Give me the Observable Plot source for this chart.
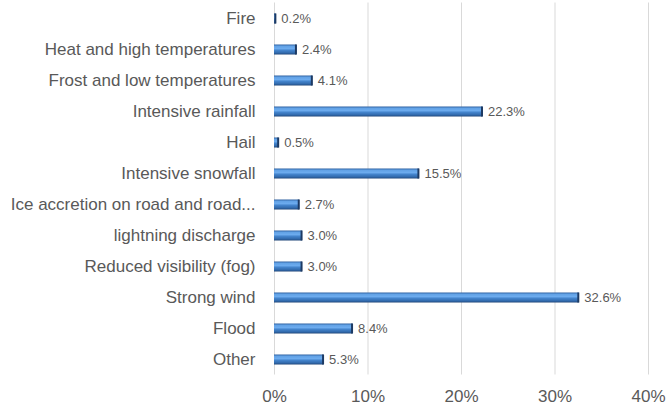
<!DOCTYPE html>
<html>
<head>
<meta charset="utf-8">
<script src="https://cdn.jsdelivr.net/npm/d3@7"></script>
<script src="https://cdn.jsdelivr.net/npm/@observablehq/plot@0.6"></script>
<style>
  body { margin: 0; background: #fff; }
</style>
</head>
<body>
<div id="chart"></div>
<script>
// Share of events by hazard type (%)
const categories = [
  "Fire",
  "Heat and high temperatures",
  "Frost and low temperatures",
  "Intensive rainfall",
  "Hail",
  "Intensive snowfall",
  "Ice accretion on road and road...",
  "lightning discharge",
  "Reduced visibility (fog)",
  "Strong wind",
  "Flood",
  "Other"
];
const shares = [0.2, 2.4, 4.1, 22.3, 0.5, 15.5, 2.7, 3.0, 3.0, 32.6, 8.4, 5.3];
const xTicks = [0, 10, 20, 30, 40];

const rows = categories.map((category, i) => ({category, share: shares[i]}));
const fmtPct = d => d + "%";
const font = "'Liberation Sans', Arial, sans-serif";

const chart = Plot.plot({
  width: 666,
  height: 408,
  marginLeft: 274,
  marginRight: 18,
  marginTop: 2.5,
  marginBottom: 33.5,
  style: {fontFamily: font, color: "#595959", background: "#fff"},
  x: {domain: [0, 40]},
  y: {domain: categories, padding: 0},
  marks: [
    Plot.gridX(xTicks, {stroke: "#d9d9d9", strokeOpacity: 1}),
    Plot.axisX({ticks: xTicks, tickFormat: fmtPct, tickSize: 0, tickPadding: 15, fontSize: 17, label: null}),
    Plot.axisY({tickSize: 0, tickPadding: 19, fontSize: 17, label: null}),
    Plot.barX(rows, {x: "share", y: "category", fill: "url(#barShade)", insetTop: 10.5, insetBottom: 10.5}),
    Plot.tickX(rows, {x: "share", y: "category", stroke: "#1d3a63", strokeWidth: 2, dx: -1, insetTop: 10.5, insetBottom: 10.5}),
    Plot.text(rows, {
      x: "share", y: "category",
      text: d => d.share.toFixed(1) + "%",
      textAnchor: "start", dx: 5, fontSize: 13, fill: "#595959"
    })
  ]
});

// Vertical shading that gives the bars their rounded, bevelled look
d3.select(chart).insert("defs", ":first-child").html(`
  <linearGradient id="barShade" x1="0" y1="0" x2="0" y2="1">
    <stop offset="0" stop-color="#2f62a2"/>
    <stop offset="0.18" stop-color="#62a2e6"/>
    <stop offset="0.4" stop-color="#6cabee"/>
    <stop offset="0.6" stop-color="#4282ca"/>
    <stop offset="0.85" stop-color="#3169ab"/>
    <stop offset="1" stop-color="#1f4578"/>
  </linearGradient>`);

document.getElementById("chart").append(chart);
</script>
</body>
</html>
